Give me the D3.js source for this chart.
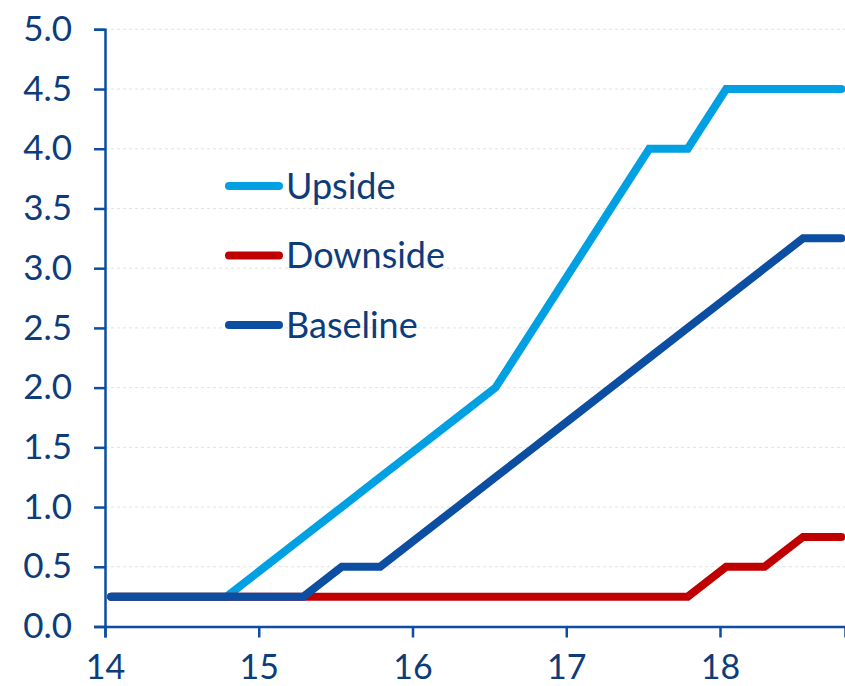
<!DOCTYPE html>
<html>
<head>
<meta charset="utf-8">
<script src="https://cdn.jsdelivr.net/npm/d3@7"></script>
<style>
  html, body { margin: 0; padding: 0; background: #fff; }
  svg { display: block; }
  text { font-family: Lato, "Open Sans", sans-serif; fill: #0d3c7b; }
</style>
</head>
<body>
<svg id="chart" width="845" height="686"></svg>
<script>
// Quarterly observations (mid-quarter, fractional year, two-digit)
const quarters = [14.04, 14.29, 14.54, 14.79, 15.04, 15.29, 15.54, 15.79, 16.04, 16.29,
                  16.54, 16.79, 17.04, 17.29, 17.54, 17.79, 18.04, 18.29, 18.54, 18.79];
const upside   = [0.25, 0.25, 0.25, 0.25, 0.5, 0.75, 1.0, 1.25, 1.5, 1.75,
                  2.0, 2.5, 3.0, 3.5, 4.0, 4.0, 4.5, 4.5, 4.5, 4.5];
const downside = [0.25, 0.25, 0.25, 0.25, 0.25, 0.25, 0.25, 0.25, 0.25, 0.25,
                  0.25, 0.25, 0.25, 0.25, 0.25, 0.25, 0.5, 0.5, 0.75, 0.75];
const baseline = [0.25, 0.25, 0.25, 0.25, 0.25, 0.25, 0.5, 0.5, 0.75, 1.0,
                  1.25, 1.5, 1.75, 2.0, 2.25, 2.5, 2.75, 3.0, 3.25, 3.25];
const seriesNames = ["Upside", "Downside", "Baseline"];
const seriesColors = ["#00a0e2", "#c00000", "#0b4ea2"];
const yTicks = [0, 0.5, 1.0, 1.5, 2.0, 2.5, 3.0, 3.5, 4.0, 4.5, 5.0];
const xTicks = [14, 15, 16, 17, 18];

const axisColor = "#0b4ea2";
const svg = d3.select("#chart");

const x = d3.scaleLinear().domain([14, 18.813]).range([105, 845]);
const y = d3.scaleLinear().domain([0, 5]).range([626.5, 29.3]);

// dashed horizontal gridlines
svg.append("g")
  .selectAll("line")
  .data(yTicks.filter(d => d > 0))
  .join("line")
  .attr("x1", x(14)).attr("x2", x(18.813))
  .attr("y1", d => y(d)).attr("y2", d => y(d))
  .attr("stroke", "#e2e2e2")
  .attr("stroke-width", 1)
  .attr("stroke-dasharray", "3,3");

// y axis
const yAxis = svg.append("g")
  .attr("transform", `translate(${x(14)},0)`)
  .call(d3.axisLeft(y).tickValues(yTicks).tickFormat(d3.format(".1f")).tickSize(11).tickPadding(22));
yAxis.select(".domain").attr("stroke", axisColor).attr("stroke-width", 2.5);
yAxis.selectAll(".tick line").attr("stroke", axisColor).attr("stroke-width", 2.5);
yAxis.selectAll(".tick text")
  .attr("font-size", 35).attr("font-family", "Lato, sans-serif").attr("fill", "#0d3c7b");

// x axis
const xAxis = svg.append("g")
  .attr("transform", `translate(0,${y(0)})`)
  .call(d3.axisBottom(x).tickValues(xTicks).tickFormat(d3.format("d")).tickSize(11).tickPadding(18));
xAxis.select(".domain").attr("stroke", axisColor).attr("stroke-width", 2.5);
xAxis.selectAll(".tick line").attr("stroke", axisColor).attr("stroke-width", 2.5);
xAxis.selectAll(".tick text")
  .attr("font-size", 34).attr("dy", "0.68em")
  .attr("font-family", "Lato, sans-serif").attr("fill", "#0d3c7b");

// series lines
const line = d3.line().x((d, i) => x(quarters[i])).y(d => y(d));
const seriesData = [upside, downside, baseline];
svg.append("g")
  .selectAll("path")
  .data(seriesData)
  .join("path")
  .attr("d", d => line(d))
  .attr("fill", "none")
  .attr("stroke", (d, i) => seriesColors[i])
  .attr("stroke-width", 8)
  .attr("stroke-linecap", "round")
  .attr("stroke-linejoin", "miter");

// legend
const legend = svg.append("g").attr("transform", "translate(229,186)");
const items = legend.selectAll("g")
  .data(seriesNames)
  .join("g")
  .attr("transform", (d, i) => `translate(0,${i * 69.5})`);
items.append("line")
  .attr("x1", 0).attr("x2", 50)
  .attr("stroke", (d, i) => seriesColors[i])
  .attr("stroke-width", 8)
  .attr("stroke-linecap", "round");
items.append("text")
  .attr("x", 57).attr("dy", "0.36em")
  .attr("font-size", 36)
  .text(d => d);
</script>
</body>
</html>
